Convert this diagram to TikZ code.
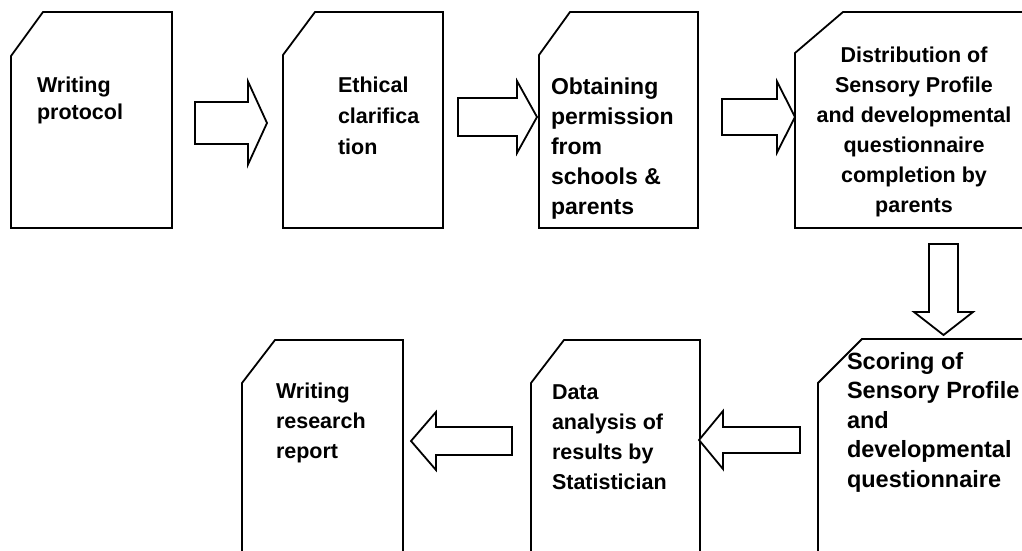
\documentclass[tikz,border=0pt]{standalone}
\usepackage{fontspec}
\setmainfont{Liberation Sans}
\usetikzlibrary{calc}
\tikzset{
  boxnode/.style={draw=none, rectangle, inner sep=0pt, outer sep=0pt, anchor=north west},
  boxline/.style={draw=black, line width=1.8pt, line join=miter, fill=white},
  arrowline/.style={draw=black, line width=1.8pt, line join=miter, fill=white},
  lbl/.style={inner sep=0pt, outer sep=0pt, anchor=north west, align=left, text=black},
}
\newcommand\snipbox[3]{%
  \draw[boxline] ([xshift=#2pt]#1.north west) -- (#1.north east) -- (#1.south east)
    -- (#1.south west) -- ([yshift=-#3pt]#1.north west) -- cycle;}
\newcommand\blockarrow[5]{% tail, tip, body half, head half, head length
  \coordinate (baN) at ($#2!#5!#1$);
  \draw[arrowline] ($#1!#3!90:#2$) -- ($(baN)!#3!90:#2$) -- ($(baN)!#4!90:#2$) -- #2
    -- ($(baN)!#4!-90:#2$) -- ($(baN)!#3!-90:#2$) -- ($#1!#3!-90:#2$) -- cycle;}
\begin{document}
\begin{tikzpicture}[x=1pt,y=-1pt]
\fill[white] (0,0) rectangle (1022,551);
\useasboundingbox (0,0) rectangle (1022,551);
\clip (0,0) rectangle (1022,551);

% boxes
\node[boxnode, minimum width=161pt, minimum height=216pt] (b1) at (11,12) {};
\node[boxnode, minimum width=160pt, minimum height=216pt] (b2) at (283,12) {};
\node[boxnode, minimum width=159pt, minimum height=216pt] (b3) at (539,12) {};
\node[boxnode, minimum width=245pt, minimum height=216pt] (b4) at (795,12) {};
\node[boxnode, minimum width=222pt, minimum height=235pt] (b5) at (818,339) {};
\node[boxnode, minimum width=169pt, minimum height=230pt] (b6) at (531,340) {};
\node[boxnode, minimum width=161pt, minimum height=230pt] (b7) at (242,340) {};

\snipbox{b1}{32}{44}
\snipbox{b2}{32}{43}
\snipbox{b3}{31}{43}
\snipbox{b4}{48}{41}
\snipbox{b5}{44}{44}
\snipbox{b6}{33}{43}
\snipbox{b7}{33}{43}

% texts
\node[lbl, font=\fontsize{21.5}{27}\selectfont\bfseries] (t1) at (37,77) {Writing\\protocol};
\node[lbl, font=\fontsize{21.5}{31}\selectfont\bfseries] (t2) at (338,77) {Ethical\\clarifica\\tion};
\node[lbl, font=\fontsize{23}{30}\selectfont\bfseries] (t3) at (551,78) {Obtaining\\permission\\from\\schools \&\\parents};
\node[lbl, anchor=north, align=center, font=\fontsize{21.5}{30}\selectfont\bfseries] (t4) at (914,47) {Distribution of\\Sensory Profile\\and developmental\\questionnaire\\completion by\\parents};
\node[lbl, font=\fontsize{23.5}{29.5}\selectfont\bfseries] (t5) at (847,352) {Scoring of\\Sensory Profile\\and\\developmental\\questionnaire};
\node[lbl, font=\fontsize{21.5}{30}\selectfont\bfseries] (t6) at (552,385) {Data\\analysis of\\results by\\Statistician};
\node[lbl, font=\fontsize{21.5}{30}\selectfont\bfseries] (t7) at (276,383) {Writing\\research\\report};

% connector end points
\coordinate (a1s) at ($(b1.north east)+(23pt,-111pt)$);
\coordinate (a1e) at ($(b2.north west)+(-16pt,-111pt)$);
\coordinate (a2s) at ($(b2.north east)+(15pt,-105pt)$);
\coordinate (a2e) at ($(b3.north west)+(-2pt,-105pt)$);
\coordinate (a3s) at ($(b3.north east)+(24pt,-105pt)$);
\coordinate (a3e) at ($(b4.north west)+(0pt,-105pt)$);
\coordinate (a4s) at ($(b4.south west)+(148.5pt,-16pt)$);
\coordinate (a4e) at ($(b5.north west)+(125.5pt,4pt)$);
\coordinate (a5s) at ($(b5.north west)+(-18pt,-101pt)$);
\coordinate (a5e) at ($(b6.north east)+(-1pt,-100pt)$);
\coordinate (a6s) at ($(b6.north west)+(-19pt,-101pt)$);
\coordinate (a6e) at ($(b7.north east)+(8pt,-101pt)$);

\blockarrow{(a1s)}{(a1e)}{21pt}{41.5pt}{19pt}
\blockarrow{(a2s)}{(a2e)}{19pt}{36pt}{20pt}
\blockarrow{(a3s)}{(a3e)}{18pt}{35.5pt}{18pt}
\blockarrow{(a4s)}{(a4e)}{14.5pt}{29.5pt}{23pt}
\blockarrow{(a5s)}{(a5e)}{13pt}{29pt}{24pt}
\blockarrow{(a6s)}{(a6e)}{14pt}{29pt}{25pt}
\end{tikzpicture}
\end{document}
